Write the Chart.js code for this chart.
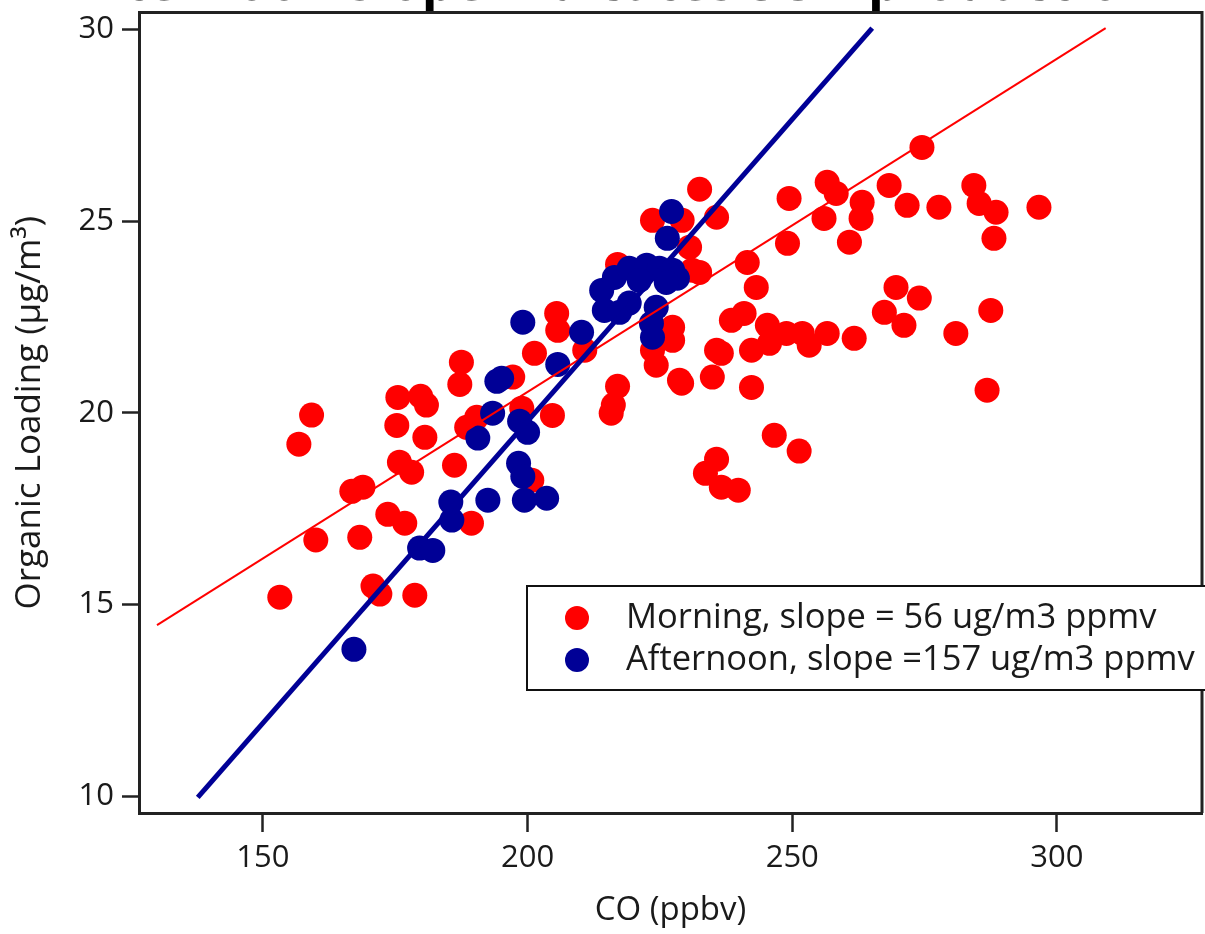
<!DOCTYPE html>
<html><head><meta charset="utf-8">
<script src="https://cdn.jsdelivr.net/npm/chart.js@4.4.0/dist/chart.umd.min.js"></script>
<style>html,body{margin:0;padding:0;background:#fff;overflow:hidden}#wrap{position:relative;width:1205px;height:934px}</style>
</head><body><div id="wrap"><canvas id="c" width="1205" height="934"></canvas></div>
<script>
// ---- data ----
const morningCO = [153.2,160.0,159.2,156.8,166.8,168.9,168.3,170.8,172.1,173.6,176.8,178.7,175.5,179.8,180.9,175.3,180.6,175.8,178.1,186.2,187.5,187.2,188.5,189.4,190.4,197.2,198.9,200.8,201.3,205.5,205.7,204.7,210.8,215.8,216.2,217.0,217.0,223.6,229.2,230.6,231.1,232.5,235.7,227.4,227.4,223.6,224.3,228.7,249.4,256.6,258.3,256.0,263.2,263.0,260.8,268.3,271.7,277.7,274.5,284.3,285.3,288.5,288.1,296.6,249.1,241.5,243.2,232.5,269.6,267.4,274.0,271.1,287.5,280.9,286.8,261.7,256.6,253.2,251.9,248.9,245.3,245.7,242.3,240.9,238.5,235.7,236.6,234.9,242.3,235.7,233.6,236.6,239.8,246.6,251.3,229.1];
const morningOA = [15.19,16.68,19.94,19.18,17.95,18.06,16.75,15.48,15.27,17.35,17.12,15.24,20.40,20.43,20.20,19.67,19.36,18.71,18.45,18.63,21.32,20.74,19.62,17.12,19.88,20.93,20.12,18.24,21.55,22.59,22.15,19.93,21.63,19.99,20.20,20.69,23.87,25.02,25.02,24.32,23.72,25.83,25.10,22.23,21.89,21.63,21.24,20.85,25.59,26.01,25.72,25.07,25.49,25.07,24.45,25.93,25.41,25.36,26.92,25.93,25.46,25.23,24.55,25.36,24.42,23.92,23.27,23.66,23.27,22.62,22.99,22.28,22.67,22.07,20.59,21.94,22.07,21.76,22.07,22.07,22.28,21.81,21.63,22.59,22.41,21.63,21.55,20.93,20.66,18.79,18.42,18.06,17.98,19.41,19.00,20.77];
const afternoonCO = [167.2,179.6,182.1,185.7,185.5,192.5,190.6,193.4,194.2,195.1,199.1,198.5,200.0,198.3,199.1,199.4,203.6,205.7,210.2,214.0,214.5,217.4,216.4,219.2,222.5,224.9,227.4,228.3,223.4,223.6,224.3,226.2,226.4,227.2,219.2,221.1];
const afternoonOA = [13.83,16.47,16.41,17.20,17.67,17.72,19.34,19.99,20.82,20.90,22.36,19.78,19.49,18.68,18.34,17.72,17.77,21.26,22.10,23.19,22.67,22.62,23.53,23.77,23.85,23.77,23.72,23.51,22.33,21.97,22.75,23.40,24.55,25.25,22.86,23.45];
const morningFitCO = [130.0, 309.2];
const morningFitOA = [14.46, 30.03];
const afternoonFitCO = [137.7, 265.1];
const afternoonFitOA = [9.97, 30.03];
const xTicks = [150, 200, 250, 300];
const yTicks = [10, 15, 20, 25, 30];
const seriesLabels = ['Morning, slope = 56 ug/m3 ppmv', 'Afternoon, slope =157 ug/m3 ppmv'];
const xTitle = 'CO (ppbv)';
const yTitle = 'Organic Loading (µg/m³)';
const titleText = 'Afternoon slope indicates SOA production';

// ---- styles ----
const RED = '#ff0000';
const BLUE = '#000096';
const FONT = '"Open Sans", "DejaVu Sans", sans-serif';
const INK = '#1a1a1a';
const PLOT_RIGHT = 1202;

const toPts = (xs, ys) => xs.map((x, i) => ({x: x, y: ys[i]}));
const noPad = () => ({left: 0, top: 0, right: 0, bottom: 0});

const framePlugin = {
  id: 'frame',
  afterLayout(chart) {
    const a = chart.chartArea;
    if (a.right !== PLOT_RIGHT) {
      a.right = PLOT_RIGHT;
      a.width = PLOT_RIGHT - a.left;
      const x = chart.scales.x;
      x.right = PLOT_RIGHT;
      x.width = PLOT_RIGHT - x.left;
      x.configure();
    }
  },
  afterDraw(chart) {
    const {ctx, chartArea: a} = chart;
    ctx.save();
    // title (cut off at the top of the picture)
    ctx.fillStyle = '#000';
    ctx.font = 'bold 52px ' + FONT;
    ctx.textAlign = 'center';
    ctx.textBaseline = 'alphabetic';
    ctx.fillText(titleText, 612, 0);
    // top/right frame lines
    ctx.strokeStyle = '#222';
    ctx.lineWidth = 3;
    ctx.beginPath();
    ctx.moveTo(a.left, a.top); ctx.lineTo(a.right, a.top); ctx.lineTo(a.right, a.bottom);
    ctx.stroke();
    // legend box
    ctx.fillStyle = '#fff';
    ctx.fillRect(527, 586, 700, 104);
    ctx.lineWidth = 2;
    ctx.strokeStyle = '#111';
    ctx.strokeRect(527, 586, 700, 104);
    [chart.data.datasets[0], chart.data.datasets[1]].forEach((ds, i) => {
      const cy = 618 + i * 42;
      ctx.fillStyle = ds.backgroundColor;
      ctx.beginPath(); ctx.arc(577, cy, 12, 0, Math.PI * 2); ctx.fill();
      ctx.fillStyle = INK;
      ctx.font = '34.5px ' + FONT;
      ctx.textBaseline = 'middle';
      ctx.textAlign = 'left';
      ctx.fillText(ds.label, 626, cy);
    });
    ctx.restore();
  }
};

new Chart(document.getElementById('c'), {
  data: {
    datasets: [
      {type: 'scatter', label: seriesLabels[0], data: toPts(morningCO, morningOA), backgroundColor: RED, borderWidth: 0, pointRadius: 12.5, pointHoverRadius: 12.5, order: 3},
      {type: 'scatter', label: seriesLabels[1], data: toPts(afternoonCO, afternoonOA), backgroundColor: BLUE, borderWidth: 0, pointRadius: 12.5, pointHoverRadius: 12.5, order: 2},
      {type: 'line', label: 'morning fit', data: toPts(morningFitCO, morningFitOA), borderColor: RED, borderWidth: 2, pointRadius: 0, fill: false, order: 1},
      {type: 'line', label: 'afternoon fit', data: toPts(afternoonFitCO, afternoonFitOA), borderColor: BLUE, borderWidth: 5, pointRadius: 0, fill: false, order: 0}
    ]
  },
  options: {
    responsive: false,
    devicePixelRatio: 1,
    animation: false,
    layout: {padding: {top: 12, right: 3, left: 0, bottom: 0}},
    plugins: {legend: {display: false}, tooltip: {enabled: false}},
    scales: {
      x: {
        type: 'linear', min: 126.6, max: 327.4,
        afterBuildTicks: s => { s.ticks = xTicks.map(v => ({value: v})); },
        afterFit: s => { s.height = 121; s.paddingLeft = 0; s.paddingRight = 0; s.getPadding = noPad; },
        grid: {drawOnChartArea: false, drawTicks: true, tickLength: 19, tickWidth: 2.5, tickColor: '#222'},
        border: {display: true, color: '#222', width: 3},
        ticks: {color: INK, font: {family: FONT, size: 31}, padding: 8, maxRotation: 0},
        title: {display: true, text: xTitle, color: INK, font: {family: FONT, size: 33}, padding: {top: 0, bottom: 4}}
      },
      y: {
        type: 'linear', min: 9.56, max: 30.44,
        afterBuildTicks: s => { s.ticks = yTicks.map(v => ({value: v})); },
        afterFit: s => { s.width = 139; s.paddingTop = 0; s.paddingBottom = 0; s.getPadding = noPad; },
        grid: {drawOnChartArea: false, drawTicks: true, tickLength: 17, tickWidth: 2.5, tickColor: '#222'},
        border: {display: true, color: '#222', width: 3},
        ticks: {color: INK, font: {family: FONT, size: 31}, padding: 8},
        title: {display: true, text: yTitle, color: INK, font: {family: FONT, size: 35}, padding: {top: 9, bottom: 0}}
      }
    }
  },
  plugins: [framePlugin]
});
</script>
</body></html>
